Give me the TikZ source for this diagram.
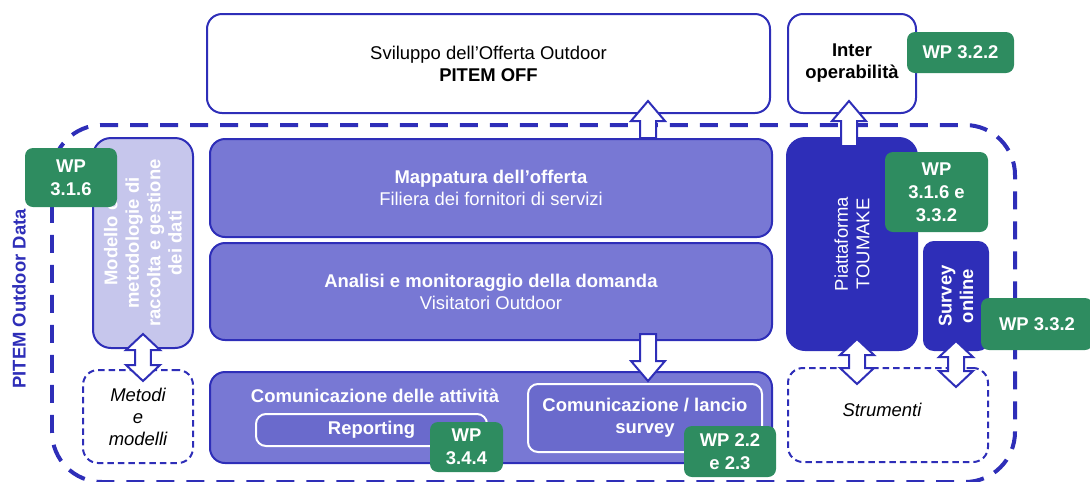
\documentclass[tikz,border=0pt]{standalone}
\usepackage{fontspec}
\setmainfont{Liberation Sans}
\usetikzlibrary{positioning,calc}
\definecolor{POblue}{HTML}{2E2EB8}
\definecolor{POmid}{HTML}{7878D4}
\definecolor{POinner}{HTML}{6A6ACC}
\definecolor{POlight}{HTML}{C6C6EC}
\definecolor{POgreen}{HTML}{2E8C60}
\newcommand{\dfont}{\fontsize{10.5}{12.5}\selectfont}
\newcommand{\gfont}{\fontsize{10.5}{13.2}\selectfont\bfseries}
\def\arrsw{0.16cm}
\def\arrhw{0.34cm}
\def\arrhl{0.4cm}
\def\arrdl{0.32cm}
% hollow block arrow, tail #1 -> tip #2 (vertical)
\newcommand{\blockarr}[2]{%
  \draw[blockarrow] let \p1=#1, \p2=#2, \n1={sign(\y2-\y1)} in
    ({\x1-\arrsw},\y1) -- ({\x1-\arrsw},{\y2-\n1*\arrhl}) -- ({\x1-\arrhw},{\y2-\n1*\arrhl}) -- (\x1,\y2)
    -- ({\x1+\arrhw},{\y2-\n1*\arrhl}) -- ({\x1+\arrsw},{\y2-\n1*\arrhl}) -- ({\x1+\arrsw},\y1) -- cycle;}
% hollow double block arrow, top tip #1, bottom tip #2
\newcommand{\dblockarr}[2]{%
  \draw[blockarrow] let \p1=#1, \p2=#2 in
    (\x1,\y1) -- ({\x1+\arrhw},{\y1-\arrdl}) -- ({\x1+\arrsw},{\y1-\arrdl}) -- ({\x1+\arrsw},{\y2+\arrdl})
    -- ({\x1+\arrhw},{\y2+\arrdl}) -- (\x1,\y2) -- ({\x1-\arrhw},{\y2+\arrdl}) -- ({\x1-\arrsw},{\y2+\arrdl})
    -- ({\x1-\arrsw},{\y1-\arrdl}) -- ({\x1-\arrhw},{\y1-\arrdl}) -- cycle;}
\tikzset{
  spans/.style args={#1/#2/#3/#4}{at={({(#1+#3)/2},{(#2+#4)/2})}, minimum width={(#3-#1)*0.02cm}, minimum height={(#4-#2)*0.02cm}},
  whitebox/.style={rounded corners=0.3cm, draw=POblue, line width=0.04cm, fill=white, inner sep=0pt, align=center, font=\dfont},
  midbox/.style={rounded corners=0.3cm, draw=POblue, line width=0.04cm, fill=POmid, inner sep=0pt, align=center, font=\dfont, text=white},
  innerbox/.style={rounded corners=0.2cm, draw=white, line width=0.04cm, fill=POinner, inner sep=0pt, align=center, font=\dfont\bfseries, text=white},
  lightbox/.style={rounded corners=0.36cm, draw=POblue, line width=0.04cm, fill=POlight, inner sep=0pt},
  darkbox/.style={rounded corners=0.36cm, draw=POblue, line width=0.04cm, fill=POblue, inner sep=0pt},
  dashbox/.style={rounded corners=0.3cm, draw=POblue, line width=0.04cm, dash pattern=on 0.13cm off 0.08cm, inner sep=0pt, align=center, font=\dfont\itshape},
  rotlabel/.style={rotate=90, align=center, text=white, font=\fontsize{10.5}{12.2}\selectfont\bfseries},
  wpbox/.style={rounded corners=0.16cm, fill=POgreen, inner sep=0pt, align=center, text=white, font=\gfont},
  blockarrow/.style={draw=POblue, fill=white, line width=0.04cm, line join=miter},
  outerdash/.style={draw=POblue, line width=0.08cm, dash pattern=on 0.36cm off 0.24cm, rounded corners=1cm}
}
\begin{document}
\begin{tikzpicture}[x=0.02cm, y=-0.02cm]
  \useasboundingbox (0,0) rectangle (1090,481);
  % PITEM Outdoor Data frame
  \draw[outerdash] (52,125) rectangle (1015,482);
  \node[rotate=90, text=POblue, font=\fontsize{10.5}{12.5}\selectfont\bfseries] (frame-t) at (19,299) {PITEM Outdoor Data};

  \node[whitebox, spans=207/14/770/113] (svil) {Sviluppo dell’Offerta Outdoor\\\textbf{PITEM OFF}};
  \node[whitebox, font=\dfont\bfseries, spans=788/14/916/113] (inter) {Inter\\operabilità};

  \node[lightbox, spans=93/138/193/348] (modello) {};
  \node[rotlabel] (modello-t) at (modello.center) {Modello e\\metodologie di\\raccolta e gestione\\dei dati};
  \node[dashbox, spans=83/370/193/463] (metodi) {Metodi\\e\\modelli};

  \node[midbox, spans=210/139/772/237] (mapp) {\textbf{Mappatura dell’offerta}\\Filiera dei fornitori di servizi};
  \node[midbox, spans=210/243/772/340] (anal) {\textbf{Analisi e monitoraggio della domanda}\\Visitatori Outdoor};
  \node[midbox, spans=210/372/772/463] (comm) {};
  \node[text=white, font=\dfont\bfseries] (comm-t) at (375,396) {Comunicazione delle attività};
  \node[innerbox, spans=256/414/487/446] (report) {Reporting};
  \node[innerbox, spans=528/384/762/452] (lancio) {Comunicazione / lancio\\survey};

  \node[darkbox, spans=787/138/917/350] (piatt) {};
  \node[rotlabel, font=\fontsize{10.5}{12.2}\selectfont] (piatt-t) at (piatt.center) {Piattaforma\\TOUMAKE};
  \node[darkbox, rounded corners=0.2cm, spans=924/242/988/350] (survey) {};
  \node[rotlabel] (survey-t) at (survey.center) {Survey\\online};
  \node[dashbox, spans=788/368/988/462] (strum) {};
  \node[font=\dfont\itshape] (strum-t) at (882,410) {Strumenti};

  % block arrows
  \coordinate (colA) at (648,0);
  \coordinate (colB) at (849,0);
  \coordinate (colC) at (857,0);
  \blockarr{(mapp.north -| colA)}{($(svil.south -| colA)+(0,-13)$)}
  \blockarr{($(anal.south -| colA)+(0,-7)$)}{($(comm.north -| colA)+(0,10)$)}
  \blockarr{($(piatt.north -| colB)+(0,9)$)}{($(inter.south -| colB)+(0,-13)$)}
  \dblockarr{($(modello.south)+(0,-15)$)}{($(metodi.north -| modello.south)+(0,12)$)}
  \dblockarr{($(piatt.south -| colC)+(0,-12)$)}{($(strum.north -| colC)+(0,17)$)}
  \dblockarr{($(survey.south)+(0,-10)$)}{($(strum.north -| survey.south)+(0,20)$)}

  % work packages
  \node[wpbox, spans=25/148/117/207] (wp316) {WP\\3.1.6};
  \node[wpbox, spans=907/32/1014/73] (wp322) {WP 3.2.2};
  \node[wpbox, spans=885/152/988/232] (wp316b) {WP\\3.1.6 e\\3.3.2};
  \node[wpbox, spans=981/298/1093/350] (wp332) {WP 3.3.2};
  \node[wpbox, spans=430/422/503/472] (wp344) {WP\\3.4.4};
  \node[wpbox, spans=684/426/776/477] (wp2223) {WP 2.2\\e 2.3};
\end{tikzpicture}
\end{document}
